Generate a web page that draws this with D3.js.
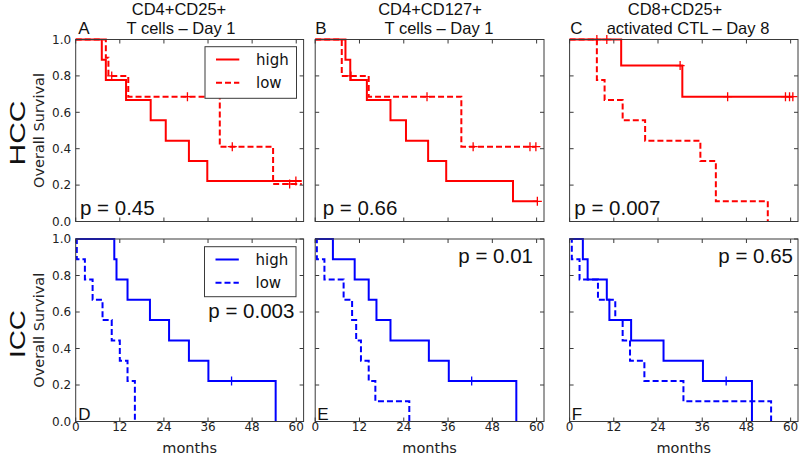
<!DOCTYPE html>
<html><head><meta charset="utf-8">
<script src="https://cdn.jsdelivr.net/npm/d3@7"></script>
<style>body{margin:0;background:#fff}svg{display:block}</style>
</head><body>
<svg id="c" width="800" height="454"></svg>
<script>
// ---------- data ----------
const monthTicks = [0, 12, 24, 36, 48, 60];
const survTicks = [0.0, 0.2, 0.4, 0.6, 0.8, 1.0];
const titles1 = ["CD4+CD25+", "CD4+CD127+", "CD8+CD25+"];
const titles2 = ["T cells \u2013 Day 1", "T cells \u2013 Day 1", "activated CTL \u2013 Day 8"];
const panelLetters = ["A", "B", "C", "D", "E", "F"];
const pValues = ["p = 0.45", "p = 0.66", "p = 0.007", "p = 0.003", "p = 0.01", "p = 0.65"];
const rowNames = ["HCC", "ICC"];
const groups = ["high", "low"];

// Panel A
const A_high_t = [7.1, 8.2, 13.7, 20.4, 24.5, 30.8, 35.8];
const A_high_s = [0.889, 0.778, 0.667, 0.556, 0.444, 0.333, 0.222];
const A_high_c = [59.9];
const A_high_end = 61.5;
const A_low_t = [8.2, 8.9, 14.3, 39.2, 53.7];
const A_low_s = [0.9, 0.8, 0.686, 0.411, 0.206];
const A_low_c = [9.8, 30.4, 42.6, 58.2];
const A_low_end = 61.5;
// Panel B
const B_high_t = [8.2, 9.5, 14.0, 20.4, 24.6, 30.6, 35.5, 53.6];
const B_high_s = [0.889, 0.778, 0.667, 0.556, 0.444, 0.333, 0.222, 0.111];
const B_high_c = [60.2];
const B_high_end = 60.2;
const B_low_t = [7.2, 14.5, 39.6];
const B_low_s = [0.8, 0.686, 0.411];
const B_low_c = [9.7, 30.3, 42.8, 58.2, 59.8];
const B_low_end = 59.8;
// Panel C
const C_high_t = [14.0, 30.6];
const C_high_s = [0.857, 0.686];
const C_high_c = [7.4, 10.1, 30.0, 42.9, 58.6, 59.7, 60.6];
const C_high_end = 60.6;
const C_low_t = [7.4, 9.5, 14.4, 20.5, 35.5, 39.7, 53.8];
const C_low_s = [0.778, 0.667, 0.556, 0.444, 0.333, 0.111, 0.0];
const C_low_c = [];
const C_low_end = 53.8;
// Panel D
const D_high_t = [10.5, 11.1, 14.1, 20.2, 25.4, 30.8, 36.1, 54.4];
const D_high_s = [0.889, 0.778, 0.667, 0.556, 0.444, 0.333, 0.222, 0.0];
const D_high_c = [42.4];
const D_high_end = 54.4;
const D_low_t = [0.3, 2.5, 4.6, 7.3, 9.8, 12.0, 14.1, 16.1];
const D_low_s = [0.889, 0.778, 0.667, 0.556, 0.444, 0.333, 0.222, 0.0];
const D_low_c = [];
const D_low_end = 16.1;
// Panel E
const E_high_t = [4.8, 10.7, 14.5, 16.6, 20.4, 30.8, 36.2, 54.5];
const E_high_s = [0.889, 0.778, 0.667, 0.556, 0.444, 0.333, 0.222, 0.0];
const E_high_c = [42.4];
const E_high_end = 54.5;
const E_low_t = [0.45, 2.5, 7.7, 10.0, 11.1, 12.4, 14.5, 16.3, 25.5];
const E_low_s = [0.889, 0.778, 0.667, 0.556, 0.444, 0.333, 0.222, 0.111, 0.0];
const E_low_c = [];
const E_low_end = 25.5;
// Panel F
const F_high_t = [3.6, 4.9, 10.1, 10.8, 16.7, 25.5, 36.2, 49.5];
const F_high_s = [0.889, 0.778, 0.667, 0.556, 0.444, 0.333, 0.222, 0.0];
const F_high_c = [42.5];
const F_high_end = 49.5;
const F_low_t = [0.6, 2.7, 7.7, 12.4, 14.4, 16.4, 20.3, 30.9, 54.7];
const F_low_s = [0.889, 0.778, 0.667, 0.556, 0.444, 0.333, 0.222, 0.111, 0.0];
const F_low_c = [];
const F_low_end = 54.7;

const panelData = [
  [[A_high_t, A_high_s, A_high_c, A_high_end], [A_low_t, A_low_s, A_low_c, A_low_end]],
  [[B_high_t, B_high_s, B_high_c, B_high_end], [B_low_t, B_low_s, B_low_c, B_low_end]],
  [[C_high_t, C_high_s, C_high_c, C_high_end], [C_low_t, C_low_s, C_low_c, C_low_end]],
  [[D_high_t, D_high_s, D_high_c, D_high_end], [D_low_t, D_low_s, D_low_c, D_low_end]],
  [[E_high_t, E_high_s, E_high_c, E_high_end], [E_low_t, E_low_s, E_low_c, E_low_end]],
  [[F_high_t, F_high_s, F_high_c, F_high_end], [F_low_t, F_low_s, F_low_c, F_low_end]]
];

// ---------- layout ----------
const colX = [[75.7, 303.6], [315.2, 544], [569.6, 798]];
const rowY = [[39.5, 221.5], [239, 421.5]];
const rowColor = ["#ff0000", "#0000ff"];
const frameColor = "#3a3a3a";
const DV = "'DejaVu Sans', sans-serif";
const LS = "'Liberation Sans', Arial, sans-serif";

const svg = d3.select("#c");

const pPos = [[80, 215], [322.7, 215], [574.3, 215], [208.3, 318.3], [458.3, 263.3], [718.3, 263.3]];
const letterPos = [[78.3, 34.3], [315.2, 34.3], [570.2, 34.3], [78.3, 419.5], [317.3, 419.5], [571.7, 419.5]];
const title1X = [179, 430, 675];
const title2X = [181, 439, 688];

function survAt(ts, ss, c) {
  let s = 1;
  for (let i = 0; i < ts.length; i++) if (ts[i] <= c) s = ss[i];
  return s;
}

for (let r = 0; r < 2; r++) {
  for (let c = 0; c < 3; c++) {
    const idx = r * 3 + c;
    const x = d3.scaleLinear().domain([0, 62]).range(colX[c]);
    const y = d3.scaleLinear().domain([0, 1]).range([rowY[r][1], rowY[r][0]]);
    const g = svg.append("g");
    const color = rowColor[r];

    panelData[idx].forEach((ser, gi) => {
      const [ts, ss, cs, end] = ser;
      const pts = [[0, 1]];
      ts.forEach((t, i) => pts.push([t, ss[i]]));
      const last = ss[ss.length - 1];
      if (last > 0 && end > ts[ts.length - 1]) pts.push([end, last]);
      const line = d3.line().x(d => x(d[0])).y(d => y(d[1])).curve(d3.curveStepAfter);
      g.append("path").attr("d", line(pts)).attr("fill", "none")
        .attr("stroke", color).attr("stroke-width", 2)
        .attr("stroke-dasharray", gi === 1 ? "6,3" : null);
      cs.forEach(cv => {
        const cx = x(cv), cy = y(survAt(ts, ss, cv));
        g.append("path").attr("d", `M${cx - 4.5},${cy}H${cx + 4.5}M${cx},${cy - 4.5}V${cy + 4.5}`)
          .attr("stroke", color).attr("stroke-width", 1.3).attr("fill", "none");
      });
    });

    const tl = 4;
    monthTicks.forEach(m => {
      const px = x(m);
      g.append("line").attr("x1", px).attr("x2", px).attr("y1", rowY[r][1]).attr("y2", rowY[r][1] - tl)
        .attr("stroke", frameColor).attr("stroke-width", 1);
      g.append("line").attr("x1", px).attr("x2", px).attr("y1", rowY[r][0]).attr("y2", rowY[r][0] + tl)
        .attr("stroke", frameColor).attr("stroke-width", 1);
    });
    survTicks.forEach(s => {
      const py = y(s);
      g.append("line").attr("x1", colX[c][0]).attr("x2", colX[c][0] + tl).attr("y1", py).attr("y2", py)
        .attr("stroke", frameColor).attr("stroke-width", 1);
      g.append("line").attr("x1", colX[c][1]).attr("x2", colX[c][1] - tl).attr("y1", py).attr("y2", py)
        .attr("stroke", frameColor).attr("stroke-width", 1);
    });

    g.append("rect").attr("x", colX[c][0]).attr("y", rowY[r][0])
      .attr("width", colX[c][1] - colX[c][0]).attr("height", rowY[r][1] - rowY[r][0])
      .attr("fill", "none").attr("stroke", frameColor).attr("stroke-width", 1);

    if (c === 0) {
      survTicks.forEach(s => {
        g.append("text").attr("x", colX[0][0] - 4.5).attr("y", y(s)).attr("dy", "0.36em")
          .attr("text-anchor", "end").attr("font-family", DV).attr("font-size", 12)
          .attr("fill", "#222").text(s.toFixed(1));
      });
      g.append("text").attr("transform", `translate(44,${(rowY[r][0] + rowY[r][1]) / 2}) rotate(-90)`)
        .attr("text-anchor", "middle").attr("font-family", DV).attr("font-size", 14.5)
        .attr("fill", "#222").text("Overall Survival");
    }
    if (r === 1) {
      monthTicks.forEach(m => {
        g.append("text").attr("x", x(m)).attr("y", 430.5).attr("text-anchor", "middle")
          .attr("font-family", DV).attr("font-size", 12).attr("fill", "#222").text(m);
      });
      g.append("text").attr("x", (colX[c][0] + colX[c][1]) / 2).attr("y", 452.5)
        .attr("text-anchor", "middle").attr("font-family", DV).attr("font-size", 14.5)
        .attr("fill", "#222").text("months");
    }

    g.append("text").attr("x", pPos[idx][0]).attr("y", pPos[idx][1])
      .attr("font-family", LS).attr("font-size", 20.5).attr("fill", "#111").text(pValues[idx]);
    g.append("text").attr("x", letterPos[idx][0]).attr("y", letterPos[idx][1])
      .attr("font-family", LS).attr("font-size", 17).attr("fill", "#111").text(panelLetters[idx]);

    if (c === 0) {
      const bx = r === 0 ? 205 : 204.5, by = r === 0 ? 46.7 : 246.7;
      const lg = g.append("g");
      lg.append("rect").attr("x", bx).attr("y", by).attr("width", 91.5).attr("height", r === 0 ? 51.6 : 50)
        .attr("fill", "#fff").attr("stroke", frameColor).attr("stroke-width", 1);
      groups.forEach((gn, gi) => {
        const ly = by + 12.8 + gi * 23.2;
        lg.append("line").attr("x1", bx + 11).attr("x2", bx + 34.3).attr("y1", ly).attr("y2", ly)
          .attr("stroke", color).attr("stroke-width", 2)
          .attr("stroke-dasharray", gi === 1 ? "6,3" : null);
        lg.append("text").attr("x", bx + 51).attr("y", ly + 5.5).attr("font-family", DV)
          .attr("font-size", 15).attr("fill", "#111").text(gn);
      });
    }
  }
}

// column titles (two lines each)
for (let c = 0; c < 3; c++) {
  svg.append("text").attr("x", title1X[c]).attr("y", 15.4).attr("text-anchor", "middle")
    .attr("font-family", LS).attr("font-size", 16.5).attr("fill", "#111").text(titles1[c]);
  svg.append("text").attr("x", title2X[c]).attr("y", 34.3).attr("text-anchor", "middle")
    .attr("font-family", LS).attr("font-size", 16.5).attr("fill", "#111").text(titles2[c]);
}
// row names
const rowNameY = [133, 334];
const rowNameLen = [65, 48];
rowNames.forEach((n, r) => {
  svg.append("text").attr("transform", `translate(25,${rowNameY[r]}) rotate(-90)`)
    .attr("text-anchor", "middle").attr("font-family", LS).attr("font-size", 22)
    .attr("textLength", rowNameLen[r]).attr("lengthAdjust", "spacingAndGlyphs")
    .attr("fill", "#111").text(n);
});
</script>
</body></html>
